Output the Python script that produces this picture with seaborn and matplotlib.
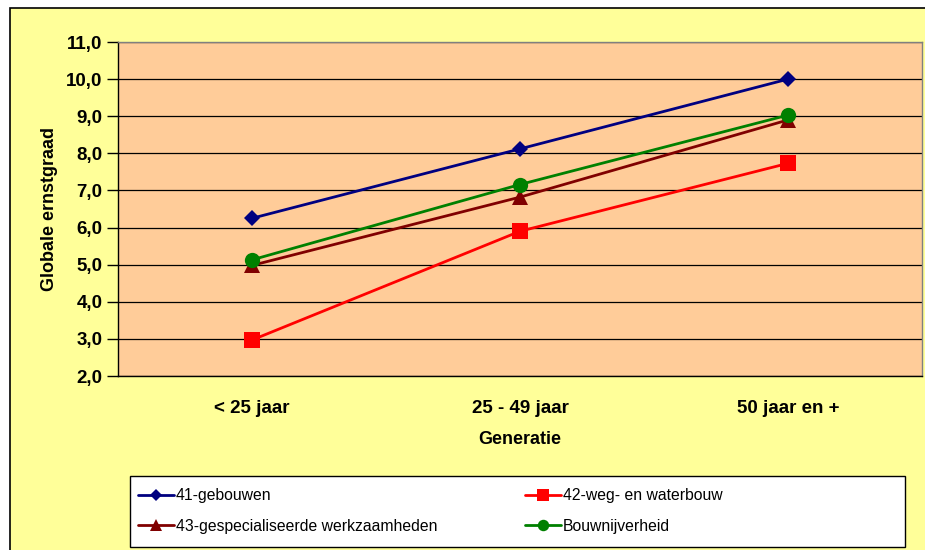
import pandas as pd
import matplotlib.pyplot as plt
import matplotlib.patches as patches
from matplotlib.lines import Line2D
import seaborn as sns

# data
generaties = ['< 25 jaar', '25 - 49 jaar', '50 jaar en +']
gebouwen = [6.25, 8.12, 10.0]
weg_waterbouw = [2.97, 5.90, 7.73]
gespecialiseerd = [4.98, 6.82, 8.90]
bouwnijverheid = [5.13, 7.16, 9.03]

series = {
    '41-gebouwen': gebouwen,
    '42-weg- en waterbouw': weg_waterbouw,
    '43-gespecialiseerde werkzaamheden': gespecialiseerd,
    'Bouwnijverheid': bouwnijverheid,
}
colors = {
    '41-gebouwen': '#000080',
    '42-weg- en waterbouw': '#FF0000',
    '43-gespecialiseerde werkzaamheden': '#800000',
    'Bouwnijverheid': '#008000',
}
markers = {
    '41-gebouwen': ('D', 8.5),
    '42-weg- en waterbouw': ('s', 11),
    '43-gespecialiseerde werkzaamheden': ('^', 11),
    'Bouwnijverheid': ('o', 11),
}

rows = []
for name, vals in series.items():
    for g, v in zip(generaties, vals):
        rows.append({'Generatie': g, 'ernst': v, 'reeks': name})
df = pd.DataFrame(rows)

sns.set_style('white')
plt.rcParams['font.family'] = ['Liberation Sans', 'DejaVu Sans']
plt.rcParams['text.color'] = 'black'
plt.rcParams['axes.labelcolor'] = 'black'
plt.rcParams['xtick.color'] = 'black'
plt.rcParams['ytick.color'] = 'black'

fig = plt.figure(figsize=(9.25, 5.5), dpi=100, facecolor='white')
# yellow chart area with black border
fig.patches.append(patches.Rectangle((10 / 925, -0.02), 1.0, 1 - 8 / 550 + 0.02,
                                     transform=fig.transFigure, facecolor='#FFFF99',
                                     edgecolor='black', linewidth=1.2, zorder=-5))
# legend box
fig.patches.append(patches.Rectangle((130 / 925, 3 / 550), 775 / 925, 71 / 550,
                                     transform=fig.transFigure, facecolor='white',
                                     edgecolor='black', linewidth=1, zorder=-4))

ax = fig.add_axes([118 / 925, 174 / 550, 804 / 925, 334 / 550])
ax.set_facecolor('#FFCC99')

for name in series:
    m, ms = markers[name]
    sns.lineplot(data=df[df['reeks'] == name], x='Generatie', y='ernst', ax=ax,
                 color=colors[name], marker=m, markersize=ms, markeredgewidth=0,
                 linewidth=2, zorder=3)

ax.set_ylim(2, 11)
ax.set_xlim(-0.5, 2.5)
ax.set_yticks(range(2, 12))
ax.set_yticklabels([f'{v},0' for v in range(2, 12)])
ax.set_xticks(range(3))
ax.set_xticklabels(generaties)
ax.set_xticks([-0.5, 0.5, 1.5, 2.5], minor=True)
ax.tick_params(axis='x', which='major', length=0, pad=17)
ax.tick_params(axis='x', which='minor', length=6, width=1, direction='out', color='black')
ax.tick_params(axis='y', length=8, width=1, direction='out', color='black', left=True, pad=3)
for lab in ax.get_xticklabels() + ax.get_yticklabels():
    lab.set_fontweight('bold')
    lab.set_fontsize(13.5)
ax.yaxis.grid(True, color='black', linewidth=0.9)
ax.set_axisbelow(True)

for s in ['top', 'right']:
    ax.spines[s].set_color('#808080')
    ax.spines[s].set_linewidth(1)
for s in ['left', 'bottom']:
    ax.spines[s].set_color('black')
    ax.spines[s].set_linewidth(1)

ax.set_xlabel('Generatie', fontsize=13, fontweight='bold', labelpad=10)
ax.set_ylabel('Globale ernstgraad', fontsize=13, fontweight='bold', labelpad=6)
if ax.get_legend():
    ax.get_legend().remove()

order = ['41-gebouwen', '43-gespecialiseerde werkzaamheden',
         '42-weg- en waterbouw', 'Bouwnijverheid']
handles = [Line2D([], [], color=colors[n], marker=markers[n][0],
                  markersize=markers[n][1] * 0.75, markeredgewidth=0, linewidth=2)
           for n in order]
leg = fig.legend(handles, order, loc='upper left', ncol=2,
                 bbox_to_anchor=(138 / 925, 1 - 488 / 550),
                 fontsize=11.3, frameon=False, handlelength=2.3,
                 handletextpad=0.1, borderaxespad=0, borderpad=0,
                 labelspacing=1.0, columnspacing=5.6)

fig.savefig('out.png', dpi=100, facecolor=fig.get_facecolor())
